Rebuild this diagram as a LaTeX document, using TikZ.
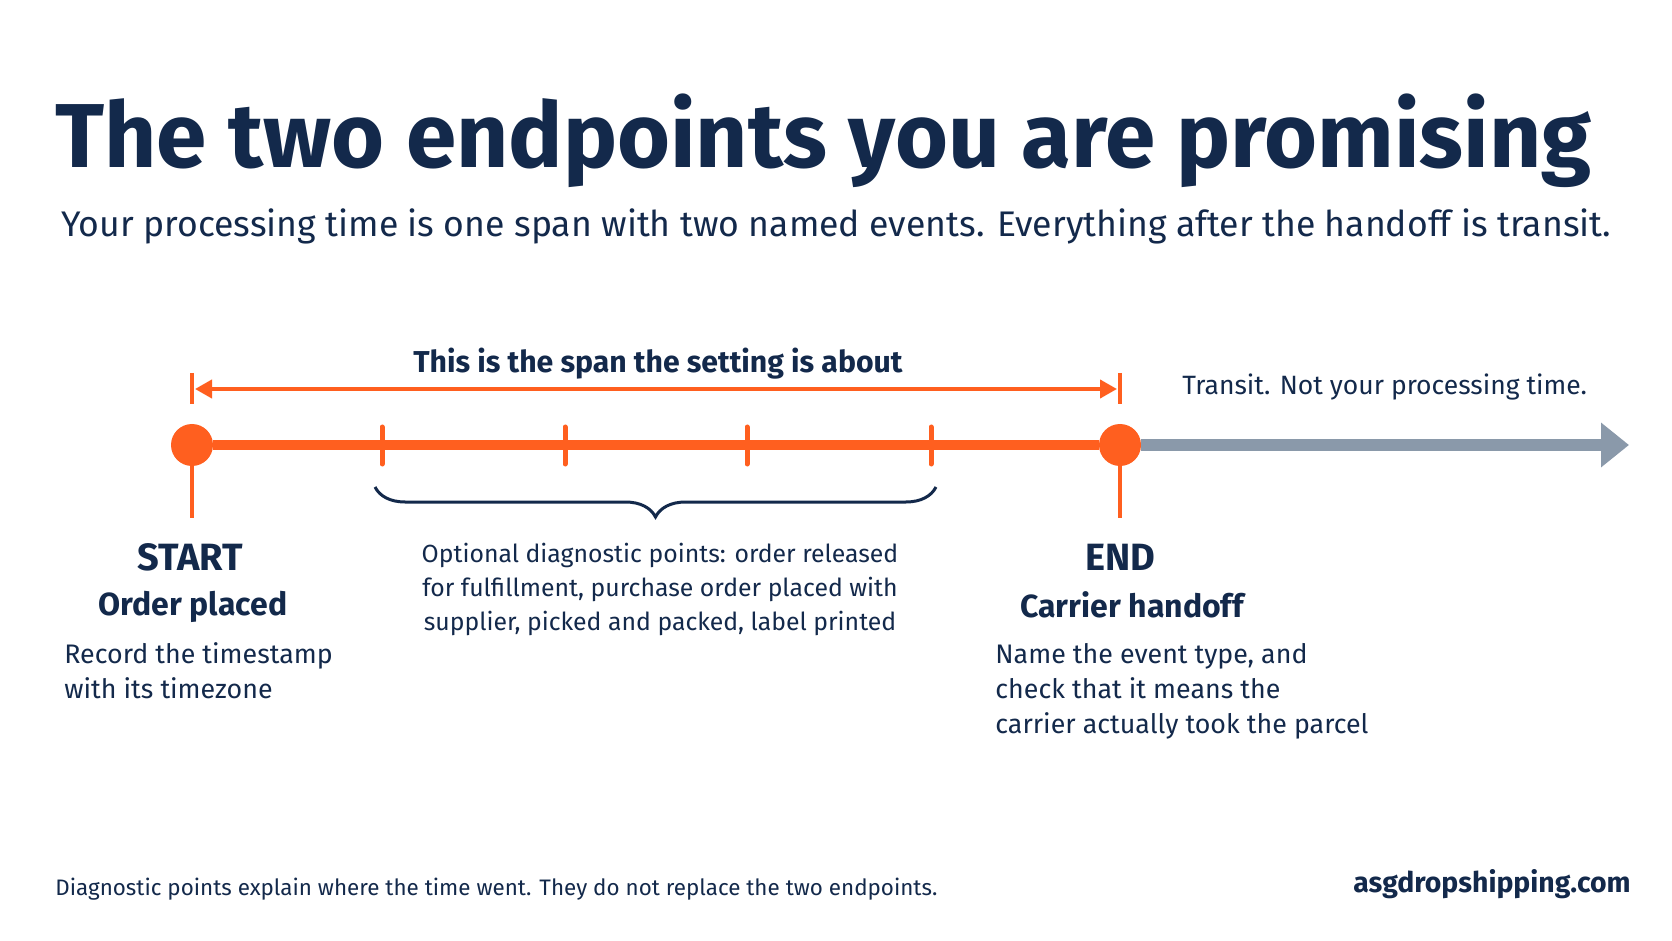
\documentclass[tikz,border=0pt]{standalone}
\usepackage{fontspec}
\setmainfont{Fira Sans}
\usetikzlibrary{calc,arrows.meta,positioning,decorations.pathreplacing}
\definecolor{navy}{HTML}{13294B}
\definecolor{signal}{HTML}{FF5F1F}
\definecolor{transitgray}{HTML}{8A99AA}

\begin{document}
\begin{tikzpicture}[x=0.5pt,y=0.5pt,yscale=-1,xscale=1,
	dot/.style={circle,fill=signal,inner sep=0pt,minimum size=21pt},
	txt/.style={text=navy,inner sep=0pt},
	tickmark/.style={draw=signal,line width=2.5pt,line cap=round},
	stem/.style={draw=signal,line width=2pt}]
	\useasboundingbox[fill=white] (0,0) rectangle (1672,941);

	% Titel
	\draw (55,168) node [txt,anchor=base west,font=\fontsize{45.4}{50}\selectfont\bfseries] (title) {The two endpoints you are promising};
	% Untertitel
	\draw (61,237) node [txt,anchor=base west,font=\fontsize{17.8}{21}\selectfont] (subtitle) {Your processing time is one span with two named events. Everything after the handoff is transit.};

	% Spanne
	\coordinate (spanL) at (192,389);
	\coordinate (spanR) at (1120,389);
	\draw[stem] ($(spanL)+(0,-16)$) -- ($(spanL)+(0,15)$);
	\draw[stem] ($(spanR)+(0,-16)$) -- ($(spanR)+(0,15)$);
	\draw[signal,line width=2pt,{Triangle[length=8.5pt,width=9pt]}-{Triangle[length=8.5pt,width=9pt]}] ($(spanL)+(3,0)$) -- ($(spanR)+(-3,0)$);
	\draw (658,372) node [txt,anchor=base,font=\fontsize{15.1}{18}\selectfont\bfseries] (spanlabel) {This is the span the setting is about};

	% Zeitachse
	\node[dot] (startdot) at (192,445) {};
	\node[dot] (enddot) at (1120,445) {};
	\coordinate (arrowtip) at (1629,445);
	\draw[transitgray,line width=6pt,-{Triangle[length=14pt,width=21.5pt]}] (enddot.east) -- (arrowtip);
	\draw[signal,line width=5pt] (startdot) -- (enddot);
	\foreach \x in {382,565,747,931}
		\draw[tickmark] (\x,427) -- (\x,464);
	\coordinate (startfoot) at (192,518);
	\coordinate (endfoot) at (1120,518);
	\draw[stem] (startdot.south) -- (startfoot);
	\draw[stem] (enddot.south) -- (endfoot);

	% Klammer
	\draw[navy,line width=1.5pt,decorate,decoration={brace,mirror,amplitude=15pt}] (375,487) -- (936,487);

	% Transit
	\draw (1182,394) node [txt,anchor=base west,font=\fontsize{13.25}{16}\selectfont] (transitlbl) {Transit. Not your processing time.};

	% START
	\draw (190,570) node [txt,anchor=base,font=\fontsize{19}{22}\selectfont\bfseries] (startlbl) {START};
	\draw (193,615) node [txt,anchor=base,font=\fontsize{16}{19}\selectfont\bfseries] (startevt) {Order placed};
	\draw (64,698) node [txt,anchor=base west,align=left,font=\fontsize{13.4}{17.5}\selectfont] (startnote) {Record the timestamp\\with its timezone};

	% Diagnose (Basislinie = letzte Zeile)
	\draw (660,630) node [txt,anchor=base,align=center,font=\fontsize{12.4}{17}\selectfont] (diag) {Optional diagnostic points: order released\\for fulfillment, purchase order placed with\\supplier, picked and packed, label printed};

	% END
	\draw (1120,570) node [txt,anchor=base,font=\fontsize{19}{22}\selectfont\bfseries] (endlbl) {END};
	\draw (1132,617) node [txt,anchor=base,font=\fontsize{16}{19}\selectfont\bfseries] (endevt) {Carrier handoff};
	\draw (995,733) node [txt,anchor=base west,align=left,font=\fontsize{13.4}{17.5}\selectfont] (endnote) {Name the event type, and\\check that it means the\\carrier actually took the parcel};

	% Fusszeile
	\draw (55,895) node [txt,anchor=base west,font=\fontsize{11.2}{13}\selectfont] (footnote) {Diagnostic points explain where the time went. They do not replace the two endpoints.};
	\draw (1631,892) node [txt,anchor=base east,font=\fontsize{14.2}{17}\selectfont\bfseries] (site) {asgdropshipping.com};
\end{tikzpicture}
\end{document}
